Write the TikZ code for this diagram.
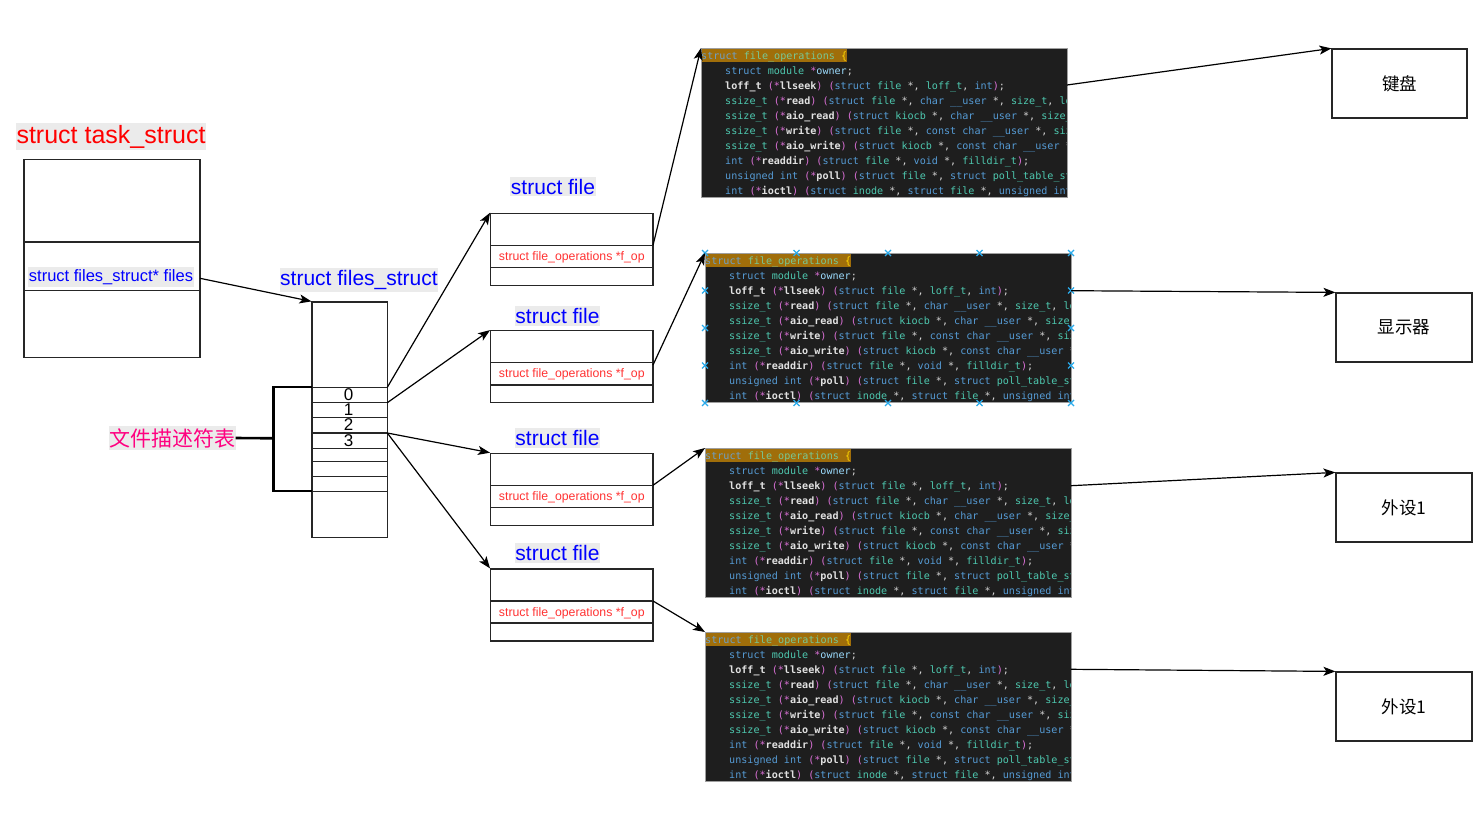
\documentclass[tikz,border=0pt]{standalone}
\usepackage{fontspec}
\setmainfont{Liberation Sans}
\newfontfamily\cjk{Noto Sans CJK SC}
\newfontfamily\mono{DejaVu Sans Mono}
\usetikzlibrary{arrows.meta}
\definecolor{lblbg}{RGB}{235,235,235}
\definecolor{fopred}{RGB}{255,51,51}
\definecolor{pinklbl}{RGB}{255,0,128}
\definecolor{codebg}{RGB}{30,30,30}
\definecolor{hl}{RGB}{160,110,10}
\definecolor{ckw}{RGB}{86,156,214}
\definecolor{cty}{RGB}{78,201,176}
\definecolor{cfn}{RGB}{225,225,225}
\definecolor{cpar}{RGB}{218,112,214}
\definecolor{cvar}{RGB}{156,220,254}
\definecolor{cpun}{RGB}{212,212,212}
\definecolor{cbrace}{RGB}{255,215,0}
\definecolor{hkw}{RGB}{110,160,200}
\definecolor{hty}{RGB}{120,200,150}
\definecolor{handle}{RGB}{41,170,235}
\newcommand\cdK[1]{\textcolor{ckw}{#1}}
\newcommand\cdT[1]{\textcolor{cty}{#1}}
\newcommand\cdF[1]{\textcolor{cfn}{\bfseries #1}}
\newcommand\cdP[1]{\textcolor{cpar}{#1}}
\newcommand\cdV[1]{\textcolor{cvar}{#1}}
\newcommand\cdW[1]{\textcolor{cpun}{#1}}
\newcommand\Lhead{\textcolor{hkw}{struct} \textcolor{hty}{file\_operations} \textcolor{cbrace}{\{}}
\newcommand\Lone{\cdK{struct} \cdT{module} \cdP{*}\cdV{owner}\cdW{;}}
\newcommand\Ltwo{\cdF{loff\_t} \cdP{(}\cdP{*}\cdF{llseek}\cdP{)} \cdP{(}\cdK{struct} \cdT{file} \cdW{*,} \cdT{loff\_t}\cdW{,} \cdK{int}\cdP{)}\cdW{;}}
\newcommand\Lthree{\cdT{ssize\_t} \cdP{(}\cdP{*}\cdF{read}\cdP{)} \cdP{(}\cdK{struct} \cdT{file} \cdW{*,} \cdK{char} \cdK{\_\_user} \cdW{*,} \cdT{size\_t}\cdW{,} \cdT{lo}}
\newcommand\Lfour{\cdT{ssize\_t} \cdP{(}\cdP{*}\cdF{aio\_read}\cdP{)} \cdP{(}\cdK{struct} \cdT{kiocb} \cdW{*,} \cdK{char} \cdK{\_\_user} \cdW{*,} \cdT{size\_t}}
\newcommand\Lfive{\cdT{ssize\_t} \cdP{(}\cdP{*}\cdF{write}\cdP{)} \cdP{(}\cdK{struct} \cdT{file} \cdW{*,} \cdK{const} \cdK{char} \cdK{\_\_user} \cdW{*,} \cdT{siz}}
\newcommand\Lsix{\cdT{ssize\_t} \cdP{(}\cdP{*}\cdF{aio\_write}\cdP{)} \cdP{(}\cdK{struct} \cdT{kiocb} \cdW{*,} \cdK{const} \cdK{char} \cdK{\_\_user} \cdW{*}}
\newcommand\Lseven{\cdK{int} \cdP{(}\cdP{*}\cdF{readdir}\cdP{)} \cdP{(}\cdK{struct} \cdT{file} \cdW{*,} \cdK{void} \cdW{*,} \cdT{filldir\_t}\cdP{)}\cdW{;}}
\newcommand\Leight{\cdK{unsigned} \cdK{int} \cdP{(}\cdP{*}\cdF{poll}\cdP{)} \cdP{(}\cdK{struct} \cdT{file} \cdW{*,} \cdK{struct} \cdT{poll\_table\_st}}
\newcommand\Lnine{\cdK{int} \cdP{(}\cdP{*}\cdF{ioctl}\cdP{)} \cdP{(}\cdK{struct} \cdT{inode} \cdW{*,} \cdK{struct} \cdT{file} \cdW{*,} \cdK{unsigned} \cdK{int}}
\newcommand\codeblock[3]{%
  \node[codebox, anchor=north west] (#1) at (#2,#3) {};
  \begin{scope}
    \clip (#2,#3) rectangle ++(366,149);
    \fill[hl] (#2,#3+1) rectangle ++(146,13);
    \node[cline] (#1-0) at (#2,#3+11) {\Lhead};
    \node[cline] (#1-1) at (#2+24,#3+26) {\Lone};
    \node[cline] (#1-2) at (#2+24,#3+41) {\Ltwo};
    \node[cline] (#1-3) at (#2+24,#3+56) {\Lthree};
    \node[cline] (#1-4) at (#2+24,#3+71) {\Lfour};
    \node[cline] (#1-5) at (#2+24,#3+86) {\Lfive};
    \node[cline] (#1-6) at (#2+24,#3+101) {\Lsix};
    \node[cline] (#1-7) at (#2+24,#3+116) {\Lseven};
    \node[cline] (#1-8) at (#2+24,#3+131) {\Leight};
    \node[cline] (#1-9) at (#2+24,#3+146) {\Lnine};
  \end{scope}
  \draw[codeframe] (#1.north west) rectangle (#1.south east);
}
\newcommand\hmark[2]{\draw[handlemark] (#1-3,#2-3) -- (#1+3,#2+3) (#1-3,#2+3) -- (#1+3,#2-3);}
\begin{document}
\begin{tikzpicture}[x=1pt,y=-1pt,
  boxline/.style={draw=black!85, line width=1.2pt},
  rbox/.style={boxline, rectangle, inner sep=0pt},
  arr/.style={line width=1.2pt, -{Stealth[length=12pt,width=9pt,inset=3pt]}},
  lbl/.style={fill=lblbg, inner xsep=0.5pt, inner ysep=2pt},
  lblblue/.style={lbl, text=blue, font=\fontsize{21}{25}\selectfont},
  fop/.style={text=fopred, inner sep=0pt, font=\fontsize{12.3}{14}\selectfont},
  dev/.style={rbox, minimum width=136pt, minimum height=69pt, font=\cjk\fontsize{17.5}{20}\selectfont},
  codebox/.style={fill=codebg, inner sep=0pt, minimum width=366pt, minimum height=149pt},
  codeframe/.style={draw=gray!75, line width=0.8pt},
  cline/.style={anchor=base west, inner sep=0pt, text=cpun, font=\mono\fontsize{10.1}{12}\selectfont},
  handlemark/.style={draw=handle, line width=1.3pt},
  digit/.style={inner sep=0pt, font=\fontsize{17}{20}\selectfont}
]
\useasboundingbox (0,0) rectangle (1483,819);
\fill[white] (0,0) rectangle (1483,819);

% task_struct
\node[lbl, text=red, font=\fontsize{25}{30}\selectfont] (tasklbl) at (111,136.5) {struct task\_struct};
\node[rbox, minimum width=176pt, minimum height=198pt] (task) at (112,258.8) {};
\draw[boxline] (task.west |- 0,242) -- (task.east |- 0,242);
\draw[boxline] (task.west |- 0,290.3) -- (task.east |- 0,290.3);
\node[lbl, text=blue, font=\fontsize{16.5}{20}\selectfont] (fileslbl) at (111,277) {struct files\_struct* files};
\coordinate (tfout) at (200,278.3);

% files_struct
\node[lblblue] (fslbl) at (359,280) {struct files\_struct};
\node[rbox, minimum width=75.3pt, minimum height=235.6pt] (fs) at (349.7,419.8) {};
\foreach \yy in {387.3,402.7,417.7,433,448.7,461.3,476.3,491.3}
  \draw[boxline] (fs.west |- 0,\yy) -- (fs.east |- 0,\yy);
\node[digit] (d0) at (348.7,394.5) {0};
\node[digit] (d1) at (348.7,410) {1};
\node[digit] (d2) at (348.7,425) {2};
\node[digit] (d3) at (348.7,441) {3};
\coordinate (fd0) at (387.3,387.3);
\coordinate (fd1) at (387.3,402.7);
\coordinate (fd3) at (387.3,433);

% descriptor table bracket
\node[lbl, text=pinklbl, font=\cjk\fontsize{21}{25}\selectfont] (fdt) at (172,438) {文件描述符表};
\coordinate (brt) at (312,387);
\coordinate (brb) at (312,491);
\coordinate (brm) at (273.3,438.3);
\draw[line width=2.6pt] (brt) -- (273.3,387) -- (273.3,491) -- (brb);
\draw[line width=2.6pt] (fdt.east) -- (brm);

% struct file boxes
\node[lblblue] (f1lbl) at (553,186.5) {struct file};
\node[lblblue] (f2lbl) at (557.5,316.2) {struct file};
\node[lblblue] (f3lbl) at (557.5,437.8) {struct file};
\node[lblblue] (f4lbl) at (557.5,553.2) {struct file};

\node[rbox, minimum width=162.3pt, minimum height=72.4pt] (f1) at (571.8,249.5) {};
\draw[boxline] (f1.west |- 0,245.3) -- (f1.east |- 0,245.3);
\draw[boxline] (f1.west |- 0,267.7) -- (f1.east |- 0,267.7);
\node[fop] (op1) at (571.8,257.5) {struct file\_operations *f\_op};

\node[rbox, minimum width=162.3pt, minimum height=71.6pt] (f2) at (571.8,366.5) {};
\draw[boxline] (f2.west |- 0,362.3) -- (f2.east |- 0,362.3);
\draw[boxline] (f2.west |- 0,385) -- (f2.east |- 0,385);
\node[fop] (op2) at (571.8,374.5) {struct file\_operations *f\_op};

\node[rbox, minimum width=162.3pt, minimum height=72.4pt] (f3) at (571.8,489.5) {};
\draw[boxline] (f3.west |- 0,485.3) -- (f3.east |- 0,485.3);
\draw[boxline] (f3.west |- 0,507.7) -- (f3.east |- 0,507.7);
\node[fop] (op3) at (571.8,497.3) {struct file\_operations *f\_op};

\node[rbox, minimum width=162.3pt, minimum height=72pt] (f4) at (571.8,605) {};
\draw[boxline] (f4.west |- 0,601) -- (f4.east |- 0,601);
\draw[boxline] (f4.west |- 0,623) -- (f4.east |- 0,623);
\node[fop] (op4) at (571.8,613) {struct file\_operations *f\_op};

\coordinate (fop1) at (653,245.3);
\coordinate (fop2) at (653,365);
\coordinate (fop3) at (653,485.3);
\coordinate (fop4) at (653,601);

% code blocks
\codeblock{cb1}{701}{48}
\codeblock{cb2}{705}{253}
\codeblock{cb3}{705}{448}
\codeblock{cb4}{705}{632}
\foreach \hx in {705,796.5,888,979.5,1071} {\hmark{\hx}{253}\hmark{\hx}{403}}
\foreach \hy in {290.5,328,365.5} {\hmark{705}{\hy}\hmark{1071}{\hy}}

\coordinate (co1) at (1067,85);
\coordinate (co2) at (1071,290.7);
\coordinate (co3) at (1071,485.7);
\coordinate (co4) at (1071,669.3);

% devices
\node[dev, minimum width=135pt] (dev1) at (1399.5,83.5) {键盘};
\node[dev] (dev2) at (1404,327.5) {显示器};
\node[dev] (dev3) at (1404,507.5) {外设1};
\node[dev] (dev4) at (1404,706.5) {外设1};

% connectors
\draw[arr] (tfout) -- (fs.north west);
\draw[arr] (fd0) -- (f1.north west);
\draw[arr] (fd1) -- (f2.north west);
\draw[arr] (fd3) -- (f3.north west);
\draw[arr] (fd3) -- (f4.north west);
\draw[arr] (fop1) -- (cb1.north west);
\draw[arr] (fop2) -- (cb2.north west);
\draw[arr] (fop3) -- (cb3.north west);
\draw[arr] (fop4) -- (cb4.north west);
\draw[arr] (co1) -- (dev1.north west);
\draw[arr] (co2) -- (dev2.north west);
\draw[arr] (co3) -- (dev3.north west);
\draw[arr] (co4) -- (dev4.north west);
\end{tikzpicture}
\end{document}
